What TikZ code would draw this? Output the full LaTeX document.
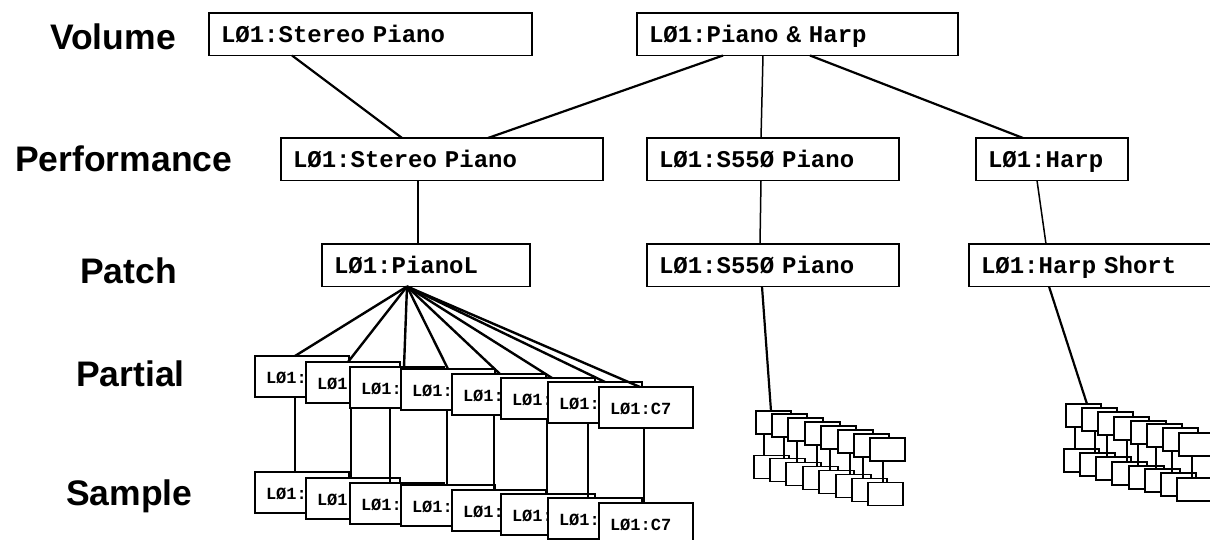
\documentclass[tikz,border=0pt]{standalone}
\usepackage{fontspec}
\newfontfamily\monofam{Liberation Mono}[WordSpace={1,0,0}]
\newfontfamily\sansfam{Liberation Sans}
\begin{document}
\begin{tikzpicture}[x=1pt,y=-1pt,
  box/.style={draw, fill=white, line width=1.4pt, outer sep=0pt, inner ysep=0pt, anchor=north west, align=left},
  big/.style={box, inner xsep=12pt, minimum height=42.5pt, text height=17pt, text depth=0pt, font=\monofam\bfseries\fontsize{24}{26}\selectfont},
  part/.style={box, inner xsep=11pt, minimum height=41pt, text width=72pt, text height=14pt, text depth=0pt, font=\monofam\bfseries\fontsize{17}{19}\selectfont},
  mini/.style={draw, fill=white, line width=1.4pt, outer sep=0pt, inner sep=0pt, anchor=north west, minimum width=35pt, minimum height=23pt},
  thicklink/.style={line width=2.2pt},
  thinlink/.style={line width=1.5pt},
  fan/.style={line width=2.4pt},
  lvl/.style={anchor=base west, inner sep=0pt, font=\sansfam\bfseries\fontsize{35.5}{40}\selectfont}
]
\useasboundingbox (0,0) rectangle (1210,540);
\clip (0,0) rectangle (1210,540);

% level labels
\node[lvl] (lvol) at (50,50) {Volume};
\node[lvl] (lperf) at (15,172) {Performance};
\node[lvl] (lpatch) at (80,283) {Patch};
\node[lvl] (lpart) at (76,386) {Partial};
\node[lvl] (lsamp) at (66,505) {Sample};

% upper boxes
\node[big, text width=299pt] (v1) at (209,13) {LØ1:Stereo Piano};
\node[big, text width=297pt] (v2) at (637,13) {LØ1:Piano \& Harp};
\node[big, text width=298pt] (f1) at (281,138) {LØ1:Stereo Piano};
\node[big, text width=228pt] (f2) at (647,138) {LØ1:S55Ø Piano};
\node[big, text width=128pt] (f3) at (976,138) {LØ1:Harp};
\node[big, text width=184pt] (c1) at (322,244) {LØ1:PianoL};
\node[big, text width=228pt] (c2) at (647,244) {LØ1:S55Ø Piano};
\node[big, text width=240pt] (c3) at (969,244) {LØ1:Harp Short};

% upper connectors
\draw[thicklink] ([xshift=83pt]v1.south west) -- ([xshift=121pt]f1.north west);
\draw[thicklink] ([xshift=86pt]v2.south west) -- ([xshift=207pt]f1.north west);
\draw[thinlink] ([xshift=126pt]v2.south west) -- ([xshift=114pt]f2.north west);
\draw[thicklink] ([xshift=173pt]v2.south west) -- ([xshift=47pt]f3.north west);
\draw[thinlink] ([xshift=137pt]f1.south west) -- ([xshift=96pt]c1.north west);
\draw[thinlink] ([xshift=114pt]f2.south west) -- ([xshift=113pt]c2.north west);
\draw[thinlink] ([xshift=61pt]f3.south west) -- ([xshift=77pt]c3.north west);

% partials and samples of PianoL
\foreach \i/\x/\y/\lx/\t in {1/255/356/40/LØ1:, 2/306/362/45/LØ1:, 3/350/367/40/LØ1:, 4/401/369/46/LØ1:, 5/452/374/42/LØ1:, 6/501/378/46/LØ1:, 7/548/382/40/LØ1:, 8/599/387/45/LØ1:C7} {
  \node[part] (p\i) at (\x,\y) {\t};
  \node[part] (s\i) at (\x,\y+116) {\t};
  \draw[thinlink] ([xshift=\lx pt]p\i.south west) -- ([xshift=\lx pt]s\i.north west);
}
\foreach \i/\fx in {1/40,2/42,3/54,4/47,5/48,6/51,7/57,8/41}
  \draw[fan] ([xshift=-19pt]c1.south) -- ([xshift=\fx pt]p\i.north west);

% S550 group
\foreach \i/\x/\y/\lx [evaluate=\lx as \lxb using \lx+2] in {1/756/411/8, 2/772/414/12, 3/788/418/9, 4/805/422/12, 5/821/426/9, 6/838/430/12, 7/854/434/9, 8/870/438/13} {
  \node[mini] (a\i) at (\x,\y) {};
  \node[mini] (aa\i) at (\x-2,\y+44.5) {};
  \draw[thinlink] ([xshift=\lx pt]a\i.south west) -- ([xshift=\lxb pt]aa\i.north west);
}
\draw[thicklink] ([xshift=115pt]c2.south west) -- ([xshift=15pt]a1.north west);

% Harp group
\foreach \i/\x/\y/\lx [evaluate=\lx as \lxb using \lx+2] in {1/1066/404/9, 2/1082/408/13, 3/1098/412/9, 4/1114/417/13, 5/1131/421/7, 6/1147/424/9, 7/1163/428/9, 8/1179/433/13} {
  \node[mini] (b\i) at (\x,\y) {};
  \node[mini] (bb\i) at (\x-2,\y+45) {};
  \draw[thinlink] ([xshift=\lx pt]b\i.south west) -- ([xshift=\lxb pt]bb\i.north west);
}
\draw[thicklink] ([xshift=80pt]c3.south west) -- ([xshift=21pt]b1.north west);
\end{tikzpicture}
\end{document}
